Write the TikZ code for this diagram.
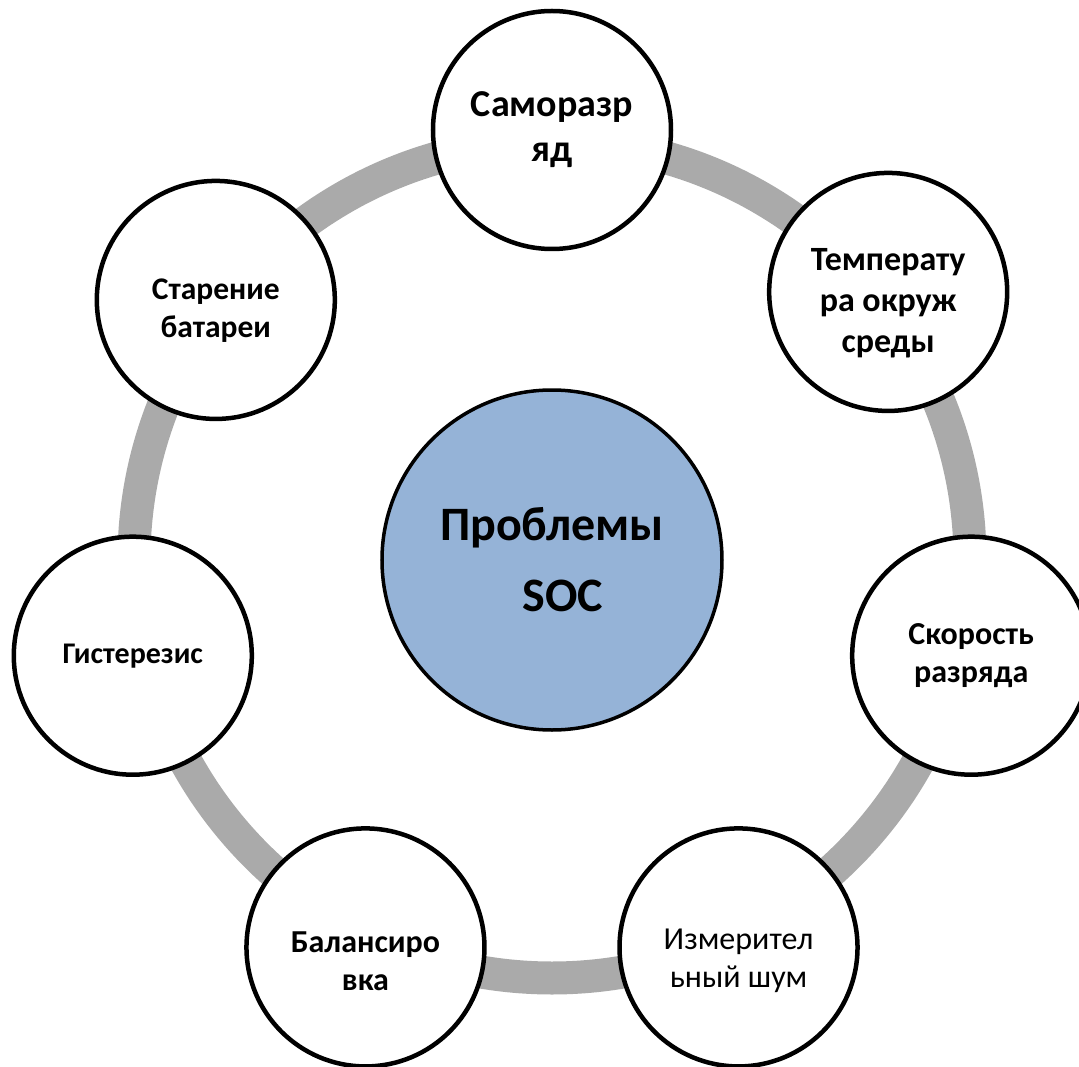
\documentclass[tikz,border=0pt]{standalone}
\usepackage{fontspec}
\setmainfont{Carlito}
\usepackage{tikz}
\usetikzlibrary{positioning}
\definecolor{ringgray}{HTML}{AAAAAA}
\definecolor{socblue}{HTML}{95B3D7}
\tikzstyle{factor} = [draw,circle,line width=4.5pt,fill=white,minimum size=238pt,inner sep=0pt,align=center,font=\fontsize{32}{38}\selectfont\bfseries]
\tikzstyle{hub} = [draw,circle,line width=3.5pt,fill=socblue,minimum size=340pt,inner sep=0pt,align=center,font=\fontsize{48}{71}\selectfont\bfseries]

\begin{document}
\begin{tikzpicture}
				\useasboundingbox (-552pt,-506pt) rectangle (527pt,560pt);
				%Ring
				\coordinate (mid) at (0,0);
				\draw[ringgray,line width=33pt] (mid) circle (418pt);

				%Nodes
				\node (rect) [hub] (soc) at (mid) {Проблемы\\\hspace*{22pt}SOC};
				\node (rect) [factor,font=\fontsize{38}{45}\selectfont\bfseries] (selfdis) at (90:430pt) {Саморазр\\яд};
				\node (rect) [factor,font=\fontsize{34}{41}\selectfont\bfseries,text height=130pt,text depth=8pt] (temp) at (38.57:430pt) {Температу\\ра окруж\\среды};
				\node (rect) [factor] (rate) at (-12.86:430pt) {Скорость\\разряда};
				\node (rect) [factor,font=\fontsize{32}{38}\selectfont,text height=87pt,text depth=7pt] (noise) at (-64.29:430pt) {Измерител\\ьный шум};
				\node (rect) [factor,text height=87pt,text depth=0pt] (balance) at (-115.71:430pt) {Балансиро\\вка};
				\node (rect) [factor,font=\fontsize{30}{36}\selectfont\bfseries] (hyst) at (-167.14:430pt) {Гистерезис};
				\node (rect) [factor,font=\fontsize{31.5}{38}\selectfont\bfseries,text height=82pt,text depth=7pt,yshift=-8pt] (aging) at (141.43:430pt) {Старение\\батареи};
			\end{tikzpicture}
\end{document}
